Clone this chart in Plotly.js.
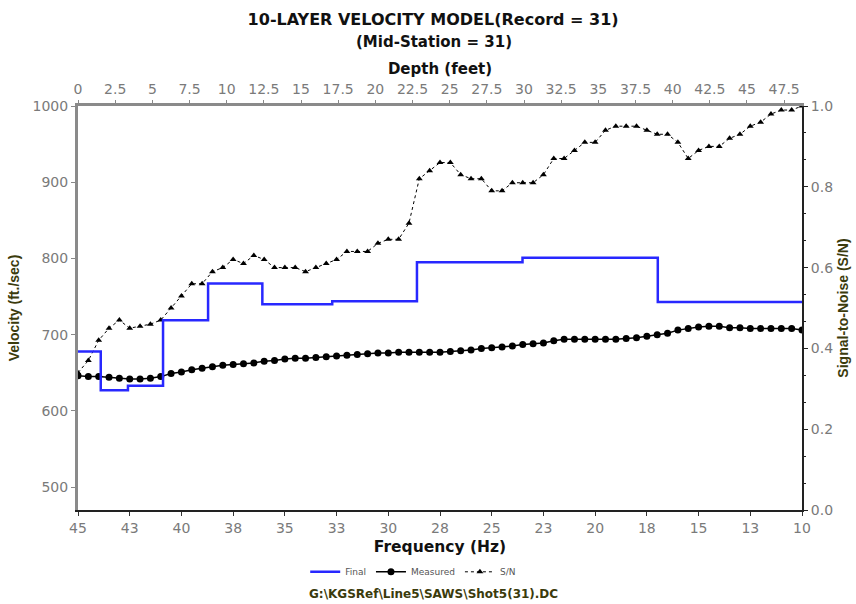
<!DOCTYPE html>
<html>
<head>
<meta charset="utf-8">
<script src="https://cdn.plot.ly/plotly-3.0.1.min.js"></script>
<style>
  html, body { margin: 0; padding: 0; background: #fff; }
  #chart { width: 856px; height: 604px; }
</style>
</head>
<body>
<div id="chart"></div>
<script>
// ---- Data ----
var frequencyHz = [45, 44.5, 44, 43.5, 43, 42.5, 42, 41.5, 41, 40.5, 40, 39.5, 39, 38.5, 38, 37.5, 37, 36.5, 36, 35.5,
  35, 34.5, 34, 33.5, 33, 32.5, 32, 31.5, 31, 30.5, 30, 29.5, 29, 28.5, 28, 27.5, 27, 26.5, 26, 25.5,
  25, 24.5, 24, 23.5, 23, 22.5, 22, 21.5, 21, 20.5, 20, 19.5, 19, 18.5, 18, 17.5, 17, 16.5, 16, 15.5,
  15, 14.5, 14, 13.5, 13, 12.5, 12, 11.5, 11, 10.5, 10];

var measuredVelocity = [646, 645, 645, 644, 643, 642, 642, 643, 645, 649, 651, 654, 656, 658, 660, 661, 662, 663, 665, 666,
  668, 669, 669, 670, 671, 672, 673, 674, 675, 676, 676, 677, 677, 677, 677, 677, 678, 679, 680, 682,
  683, 684, 685, 687, 688, 689, 692, 694, 694, 694, 694, 694, 694, 695, 696, 698, 700, 702, 706, 708,
  710, 711, 711, 709, 709, 708, 708, 708, 708, 708, 706];

var signalToNoise = [0.34, 0.37, 0.42, 0.45, 0.47, 0.45, 0.455, 0.46, 0.47, 0.50, 0.53, 0.56, 0.56, 0.59, 0.60, 0.62, 0.61, 0.63, 0.62, 0.60,
  0.60, 0.60, 0.59, 0.60, 0.61, 0.62, 0.64, 0.64, 0.64, 0.66, 0.67, 0.67, 0.71, 0.82, 0.84, 0.86, 0.86, 0.83, 0.82, 0.82,
  0.79, 0.79, 0.81, 0.81, 0.81, 0.83, 0.87, 0.87, 0.89, 0.91, 0.91, 0.94, 0.95, 0.95, 0.95, 0.94, 0.93, 0.93, 0.91, 0.87,
  0.89, 0.90, 0.90, 0.92, 0.93, 0.95, 0.96, 0.98, 0.99, 0.99, 1.0];

// 10-layer model: layer top depths (feet) and velocities (ft/sec); last point closes the final layer
var layerTopDepth = [0, 1.53, 3.36, 5.72, 8.75, 12.4, 17.1, 22.8, 29.9, 39.0, 48.7];
var layerVelocity = [678, 627, 633, 719, 767, 740, 744, 795, 801, 743, 743];

var freqTickVals = [45, 42.5, 40, 37.5, 35, 32.5, 30, 27.5, 25, 22.5, 20, 17.5, 15, 12.5, 10];
var freqTickText = ['45', '43', '40', '38', '35', '33', '30', '28', '25', '23', '20', '18', '15', '13', '10'];

// ---- Chart ----
var WIDE = '"DejaVu Sans", Arial, sans-serif';
var NARROW = 'Arial, "Liberation Sans", sans-serif';
var GRAY = '#7a7a7a';
var OLIVE = '#3b3b0c';

var traces = [
  {
    name: 'Final', x: layerTopDepth, y: layerVelocity, xaxis: 'x2', yaxis: 'y',
    type: 'scatter', mode: 'lines', line: { shape: 'hv', color: 'rgb(40,40,255)', width: 2.5 }
  },
  {
    name: 'Measured', x: frequencyHz, y: measuredVelocity, xaxis: 'x', yaxis: 'y',
    type: 'scatter', mode: 'lines+markers',
    line: { color: '#000', width: 1.5 },
    marker: { symbol: 'circle', size: 7, color: '#000' }
  },
  {
    name: 'S/N', x: frequencyHz, y: signalToNoise, xaxis: 'x', yaxis: 'y2',
    type: 'scatter', mode: 'lines+markers',
    line: { color: '#000', width: 1, dash: 'dot' },
    marker: { symbol: 'triangle-up', size: 6, color: '#000' }
  }
];

var layout = {
  width: 856, height: 604,
  paper_bgcolor: '#fff', plot_bgcolor: '#fff',
  margin: { l: 78, r: 54, t: 106, b: 94, pad: 0 },
  font: { family: WIDE, color: '#000' },
  showlegend: true,
  title: {
    text: '<b>10-LAYER VELOCITY MODEL(Record = 31)</b>',
    font: { family: WIDE, size: 16, color: '#111' },
    x: 0.506, xanchor: 'center', xref: 'container',
    y: 1 - 19 / 604, yanchor: 'middle', yref: 'container'
  },
  xaxis: {
    range: [45, 10], side: 'bottom', anchor: 'y',
    tickmode: 'array', tickvals: freqTickVals, ticktext: freqTickText,
    ticks: 'outside', ticklen: 4, tickwidth: 1, tickcolor: '#333',
    showline: true, linecolor: '#222', linewidth: 2, mirror: false,
    showgrid: false, zeroline: false,
    tickfont: { family: WIDE, size: 14, color: GRAY },
    title: { text: '<b>Frequency (Hz)</b>', font: { family: WIDE, size: 15.5, color: '#111' }, standoff: 6 }
  },
  xaxis2: {
    range: [0, 48.7], side: 'top', overlaying: 'x', anchor: 'y',
    tick0: 0, dtick: 2.5,
    ticks: 'outside', ticklen: 3, tickwidth: 1, tickcolor: '#888',
    showline: true, linecolor: '#8a8a8a', linewidth: 3,
    showgrid: false, zeroline: false,
    tickfont: { family: WIDE, size: 14, color: GRAY },
    title: { text: '<b>Depth (feet)</b>', font: { family: WIDE, size: 15, color: '#111' }, standoff: 4 }
  },
  yaxis: {
    range: [470, 1000], dtick: 100, tick0: 0,
    ticks: 'outside', ticklen: 4, tickwidth: 1, tickcolor: '#888',
    showline: true, linecolor: '#8a8a8a', linewidth: 3,
    showgrid: false, zeroline: false,
    tickfont: { family: WIDE, size: 14, color: GRAY },
    title: { text: '<b>Velocity (ft./sec)</b>', font: { family: NARROW, size: 14, color: OLIVE }, standoff: 10 }
  },
  yaxis2: {
    range: [0, 1], dtick: 0.2, tick0: 0, tickformat: '.1f',
    side: 'right', overlaying: 'y', anchor: 'x',
    ticks: 'outside', ticklen: 4, tickwidth: 1, tickcolor: '#222',
    minor: { dtick: 0.2 / 3, ticks: 'outside', ticklen: 2, tickcolor: '#222' },
    showline: true, linecolor: '#222', linewidth: 2,
    showgrid: false, zeroline: false,
    tickfont: { family: WIDE, size: 14, color: GRAY },
    title: { text: '<b>Signal-to-Noise (S/N)</b>', font: { family: NARROW, size: 14, color: OLIVE }, standoff: 6 }
  },
  legend: {
    orientation: 'h', x: 0.463, xanchor: 'center', y: -0.153, yanchor: 'middle',
    font: { family: WIDE, size: 9, color: '#555' },
    bgcolor: 'rgba(0,0,0,0)', itemwidth: 30, tracegroupgap: 0
  },
  annotations: [
    {
      text: '<b>(Mid-Station = 31)</b>', xref: 'paper', yref: 'paper',
      x: (433.5 - 78) / 724, y: (510 - 42) / 404, xanchor: 'center', yanchor: 'middle',
      showarrow: false, font: { family: WIDE, size: 15, color: '#111' }
    },
    {
      text: '<b>G:\\KGSRef\\Line5\\SAWS\\Shot5(31).DC</b>', xref: 'paper', yref: 'paper',
      x: (433 - 78) / 724, y: (510 - 594) / 404, xanchor: 'center', yanchor: 'middle',
      showarrow: false, font: { family: WIDE, size: 12, color: OLIVE }
    }
  ]
};

Plotly.newPlot('chart', traces, layout, { displayModeBar: false, staticPlot: true });
</script>
</body>
</html>
